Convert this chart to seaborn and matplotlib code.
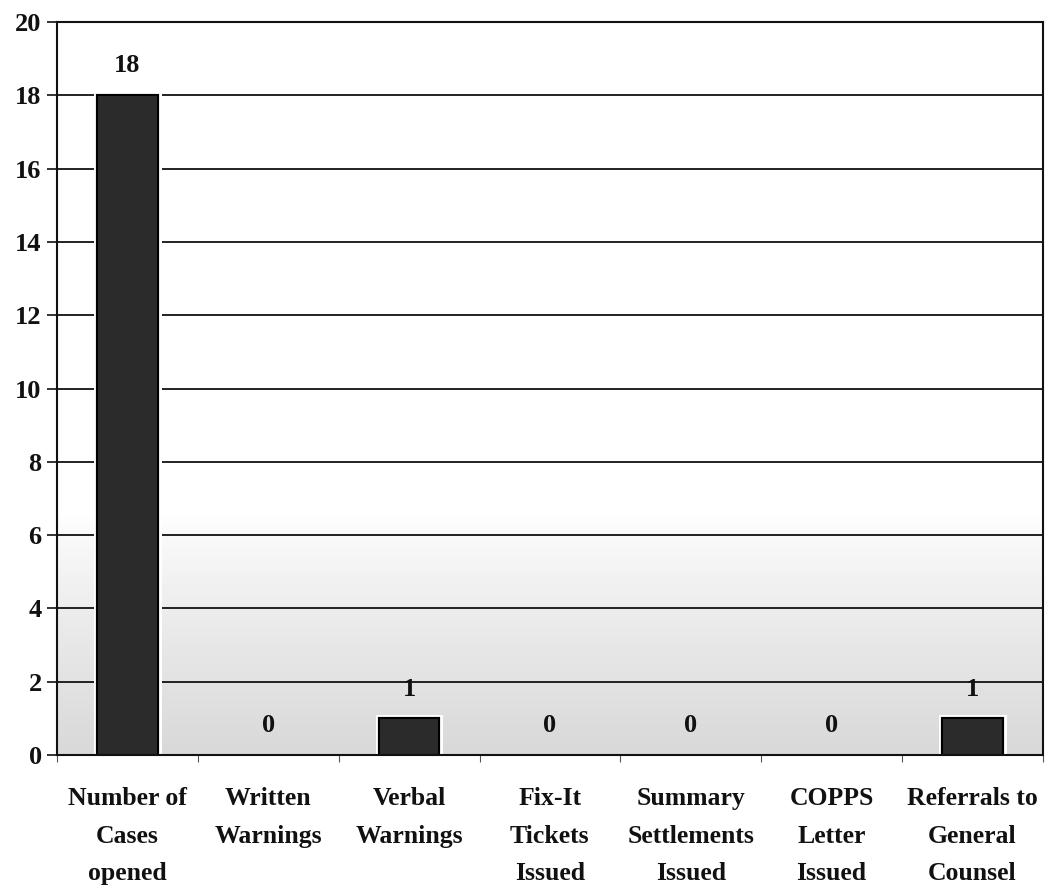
import numpy as np
import pandas as pd
import matplotlib
matplotlib.use("Agg")
import matplotlib.pyplot as plt
import matplotlib.patheffects as pe
from matplotlib.colors import LinearSegmentedColormap
import seaborn as sns

categories = ["Number of\nCases\nopened", "Written\nWarnings", "Verbal\nWarnings",
              "Fix-It\nTickets\nIssued", "Summary\nSettlements\nIssued",
              "COPPS\nLetter\nIssued", "Referrals to\nGeneral\nCounsel"]
values = [18, 0, 1, 0, 0, 0, 1]
yticks = [0, 2, 4, 6, 8, 10, 12, 14, 16, 18, 20]

df = pd.DataFrame({"category": categories, "value": values})

sns.set_theme(style="white")
plt.rcParams['font.family'] = ['Liberation Serif', 'DejaVu Serif']
plt.rcParams['font.weight'] = 'bold'
plt.rcParams['text.color'] = '#111111'
plt.rcParams['xtick.color'] = '#111111'
plt.rcParams['ytick.color'] = '#111111'

fig = plt.figure(figsize=(10.45, 8.91), dpi=100)
ax = fig.add_axes([0.0545, 0.1526, 0.9435, 0.8227])

# scanned grey shading toward the bottom of the plot area
yy = np.linspace(0, 20, 400).reshape(-1, 1)
shade = np.clip((6.5 - yy) / 6.5, 0, 1) ** 0.8
cmap = LinearSegmentedColormap.from_list("bg", ["#ffffff", "#d9d9d9"])
ax.imshow(shade, aspect="auto", cmap=cmap, extent=(-0.5, 6.5, 0, 20),
          zorder=0, origin="lower", vmin=0, vmax=1, interpolation="bilinear")

sns.barplot(data=df, x="category", y="value", ax=ax, color="#2b2b2b",
            width=0.43, edgecolor="black", linewidth=1.5, zorder=3, saturation=1)
for p, v in zip(ax.patches, values):
    if v == 0:
        p.set_visible(False)
    else:
        p.set_path_effects([pe.withStroke(linewidth=5, foreground="white"), pe.Normal()])

for i, v in enumerate(values):
    ax.text(i, v + 0.8, str(v), ha="center", va="center", fontsize=19,
            fontweight="bold", color="#111111", zorder=4)

ax.set_ylim(0, 20)
ax.set_xlim(-0.5, 6.5)
ax.set_yticks(yticks)
ax.set_yticklabels([str(t) for t in yticks], fontsize=19, fontweight="bold", color="#111111")
for t in yticks[1:-1]:
    ax.axhline(t, color="#111111", linewidth=1.3, zorder=1)

ax.set_xticks(range(len(categories)))
ax.set_xticklabels(categories, fontsize=18.5, fontweight="bold", linespacing=1.82,
                   color="#111111")
ax.tick_params(axis="x", length=0, pad=23)
ax.set_xticks(np.arange(-0.5, 7, 1), minor=True)
ax.tick_params(axis="x", which="minor", length=5, width=0.8, color="#555555", bottom=True)
ax.tick_params(axis="y", length=7, width=1.2, color="#111111", left=True, pad=4)

ax.set_xlabel("")
ax.set_ylabel("")
for s in ax.spines.values():
    s.set_color("#111111")
    s.set_linewidth(1.5)
    s.set_zorder(5)

fig.savefig("out.png", dpi=100)
